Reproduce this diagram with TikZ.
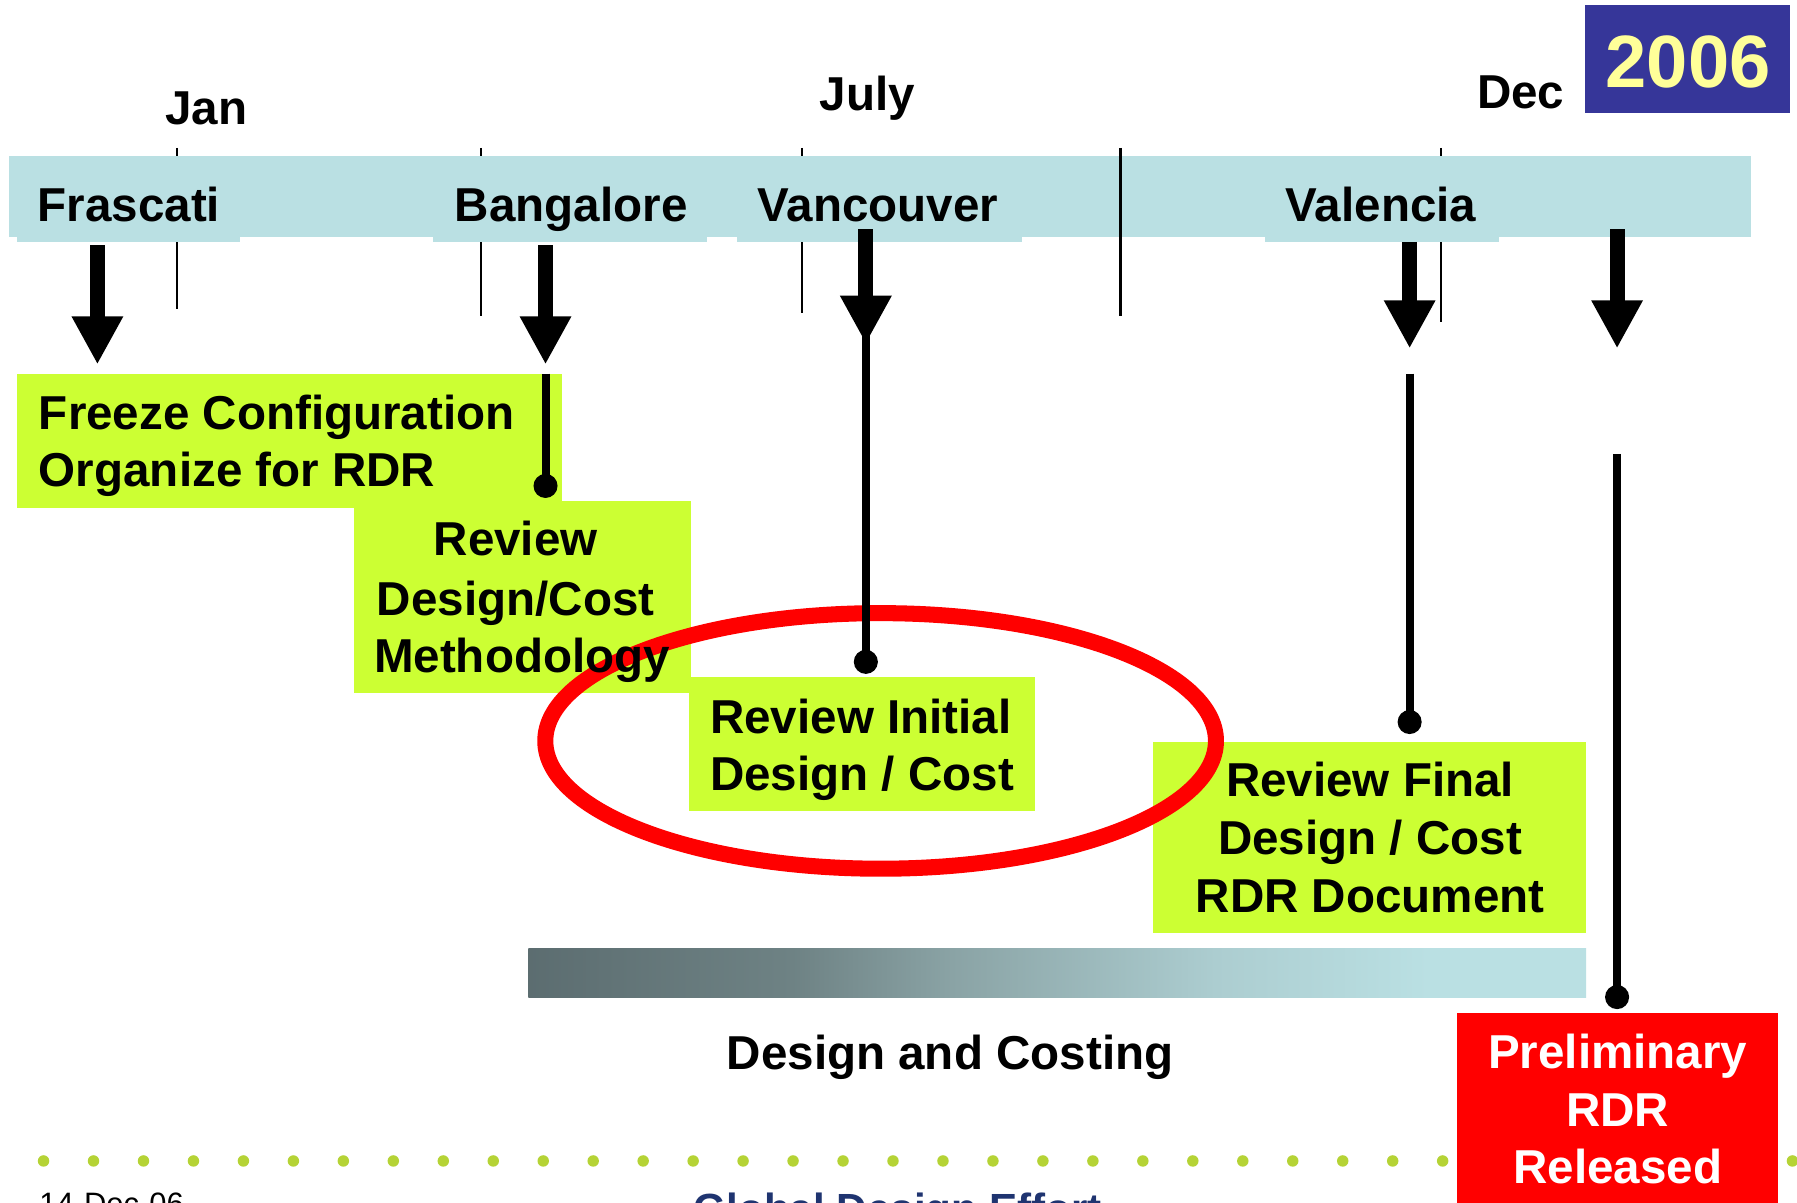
\documentclass[tikz,border=0pt]{standalone}
\usepackage{fontspec}
\setmainfont{Liberation Sans}
\usetikzlibrary{arrows.meta}
\definecolor{barcyan}{RGB}{186,224,227}
\definecolor{limebox}{RGB}{204,255,51}
\definecolor{yearblue}{RGB}{54,54,153}
\definecolor{yearyellow}{RGB}{255,255,153}
\definecolor{dotgreen}{RGB}{181,211,53}
\definecolor{gdenavy}{RGB}{31,52,112}
\definecolor{relred}{RGB}{255,0,0}
\pgfdeclarehorizontalshading{costshade}{100bp}{rgb(0bp)=(0.36,0.427,0.44); rgb(25bp)=(0.36,0.427,0.44); rgb(37.5bp)=(0.431,0.51,0.518); rgb(45bp)=(0.541,0.639,0.647); rgb(57.5bp)=(0.675,0.804,0.816); rgb(67.5bp)=(0.729,0.878,0.89); rgb(100bp)=(0.729,0.878,0.89)}
\tikzset{
  lbl/.style={inner sep=0pt, outer sep=0pt, font=\fontsize{20.75}{25}\selectfont\bfseries},
  tickline/.style={line width=0.9pt},
  bigarrow/.style={line width=6.5pt, -{Triangle[width=21pt,length=21pt]}},
  stem/.style={line width=3.5pt},
  enddot/.style={circle, fill=black, inner sep=0pt, minimum size=10.5pt},
  boxfill/.style={fill=limebox, inner sep=0pt, outer sep=0pt, anchor=north west},
}
\begin{document}
\begin{tikzpicture}[x=0.5pt,y=-0.5pt]
\useasboundingbox (0,0) rectangle (1568,1049);
\fill[white] (0,0) rectangle (1568,1049);
% ticks
\foreach \tx/\ty in {154.3/270,420/276,700/273,1257.5/281}
  \draw[tickline] (\tx,129) -- (\tx,\ty);
% timeline bar
\fill[barcyan] (7.5,136) rectangle (1528,207);
\fill[barcyan] (15,150) rectangle (209,211);
\fill[barcyan] (378,150) rectangle (617,211);
\fill[barcyan] (643,150) rectangle (892,211);
\fill[barcyan] (1104,150) rectangle (1308,211);
\draw[line width=1.3pt] (978,129) -- (978,276);
% city labels
\node[lbl, anchor=base west] (frascati) at (33,193.5) {Frascati};
\node[lbl, anchor=base west] (bangalore) at (397,193.5) {Bangalore};
\node[lbl, anchor=base west] (vancouver) at (661,193.5) {Vancouver};
\node[lbl, anchor=base west] (valencia) at (1122,193.5) {Valencia};
% months
\node[lbl, anchor=base] (jan) at (180,109) {Jan};
\node[lbl, anchor=base] (july) at (757,96) {July};
\node[lbl, anchor=base] (dec) at (1327,95) {Dec};
% year
\node[fill=yearblue, inner sep=0pt, outer sep=0pt, minimum width=89.5pt, minimum height=47.3pt, anchor=north west] (yearbox) at (1383,4.4) {};
\node[inner sep=0pt, anchor=base, text=yearyellow, font=\fontsize{32.35}{36}\selectfont\bfseries] (year) at (1473,76) {2006};
% arrows
\coordinate (a1s) at (85,214);     \coordinate (a1t) at (85,318);
\coordinate (a2s) at (476,214);    \coordinate (a2t) at (476,318);
\coordinate (a3s) at (755.5,200);  \coordinate (a3t) at (755.5,300);
\coordinate (a4s) at (1230,211);   \coordinate (a4t) at (1230,304);
\coordinate (a5s) at (1411,200);   \coordinate (a5t) at (1411,304);
\draw[bigarrow] (a1s) -- (a1t);
\draw[bigarrow] (a2s) -- (a2t);
\draw[bigarrow] (a3s) -- (a3t);
\draw[bigarrow] (a4s) -- (a4t);
\draw[bigarrow] (a5s) -- (a5t);
% boxes
\node[boxfill, minimum width=237.5pt, minimum height=58.5pt] (box1) at (15,326) {};
\node[boxfill, minimum width=147.25pt, minimum height=84pt] (box2) at (308.5,437) {};
\node[boxfill, minimum width=151pt, minimum height=58.5pt] (box3) at (601,591) {};
\node[boxfill, minimum width=189pt, minimum height=83.5pt] (box4) at (1006,647) {};
% highlight ellipse
\draw[relred, line width=7pt] (768.4,646.5) ellipse [x radius=292.6, y radius=111.5];
% box texts
\node[lbl, anchor=base west] (t1a) at (34,374.6) {Freeze Configuration};
\node[lbl, anchor=base west] (t1b) at (34,424.7) {Organize for RDR};
\node[lbl, anchor=base] (t2a) at (450,485) {Review};
\node[lbl, anchor=base] (t2b) at (450,536.7) {Design/Cost};
\node[lbl, anchor=base] (t2c) at (455.5,587) {Methodology};
\node[lbl, anchor=base west] (t3a) at (619.7,639.8) {Review Initial};
\node[lbl, anchor=base west] (t3b) at (619.7,690) {Design / Cost};
\node[lbl, anchor=base] (t4a) at (1195.5,695) {Review Final};
\node[lbl, anchor=base] (t4b) at (1195.5,746) {Design / Cost};
\node[lbl, anchor=base] (t4c) at (1195.5,796) {RDR Document};
% stems with dots
\coordinate (s2) at (476,326);   \node[enddot] (d2) at (476,424) {};
\coordinate (s3) at (755.5,290); \node[enddot] (d3) at (755.5,577.5) {};
\coordinate (s4) at (1230,326);  \node[enddot] (d4) at (1230,630) {};
\coordinate (s5) at (1411,396);  \node[enddot] (d5) at (1411,870) {};
\draw[stem] (s2) -- (d2.center);
\draw[stem] (s3) -- (d3.center);
\draw[stem] (s4) -- (d4.center);
\draw[stem] (s5) -- (d5.center);
% design and costing bar
\node[inner sep=0pt, outer sep=0pt, minimum width=461.5pt, minimum height=21.25pt, anchor=north west, shading=costshade] (costbar) at (461,828) {};
\node[lbl, anchor=base] (costing) at (829,932.8) {Design and Costing};
% dotted footer line
\foreach \k in {0,...,35}
  \fill[dotgreen] ({38+43.6*\k},1013) circle [radius=5];
% release box
\node[fill=relred, inner sep=0pt, outer sep=0pt, minimum width=140pt, minimum height=90pt, anchor=north west] (relbox) at (1271,884) {};
\node[lbl, anchor=base, text=white] (r1) at (1411.6,932) {Preliminary};
\node[lbl, anchor=base, text=white] (r2) at (1411.6,982.6) {RDR};
\node[lbl, anchor=base, text=white] (r3) at (1411.6,1032.5) {Released};
% footer texts (cut by the page edge)
\node[inner sep=0pt, anchor=base west, font=\fontsize{13.5}{16}\selectfont] (date) at (34,1059.5) {14-Dec-06};
\node[inner sep=0pt, anchor=base west, text=gdenavy, font=\fontsize{18.4}{22}\selectfont\bfseries] (gde) at (605,1067.5) {Global Design Effort};
\end{tikzpicture}
\end{document}
